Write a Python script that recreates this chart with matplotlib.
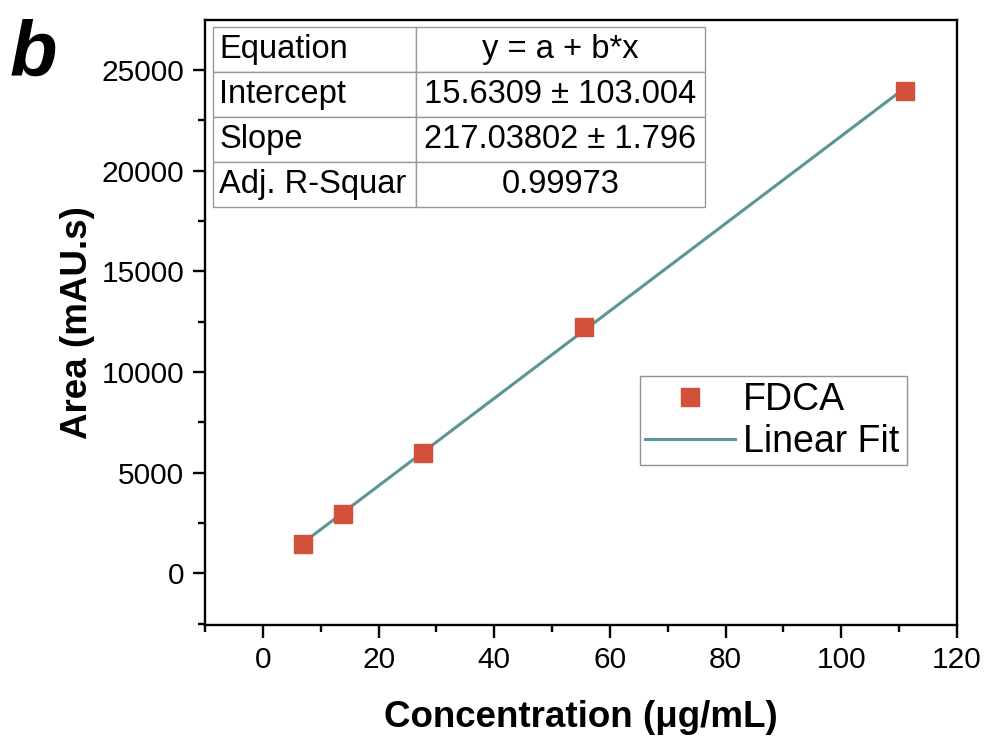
import numpy as np
import matplotlib
matplotlib.use('Agg')
import matplotlib.pyplot as plt
from matplotlib.ticker import MultipleLocator

plt.rcParams['font.family'] = ['Liberation Sans', 'DejaVu Sans']

# data
conc = [6.94, 13.88, 27.75, 55.5, 111.0]
area = [1450, 2940, 5960, 12260, 23980]

# fit result as reported in the table
intercept = 15.6309
slope = 217.03802
table_rows = [
    ['Equation', 'y = a + b*x'],
    ['Intercept', '15.6309 ± 103.004'],
    ['Slope', '217.03802 ± 1.796'],
    ['Adj. R-Squar', '0.99973'],
]

fig = plt.figure(figsize=(9.86, 7.36), dpi=100)
ax = fig.add_axes([0.208, 0.1508, 0.7626, 0.822])

pt_color = '#D3513A'
fit_color = '#5B9595'

xfit = np.array([conc[0], conc[-1]])
ax.plot(xfit, intercept + slope * xfit, color=fit_color, lw=2.2, label='Linear Fit', zorder=2)
ax.plot(conc, area, 's', color=pt_color, ms=12.5, mec=pt_color, label='FDCA', zorder=3)

ax.set_xlim(-10, 120)
ax.set_ylim(-2560, 27480)
ax.xaxis.set_major_locator(MultipleLocator(20))
ax.xaxis.set_minor_locator(MultipleLocator(10))
ax.yaxis.set_major_locator(MultipleLocator(5000))
ax.yaxis.set_minor_locator(MultipleLocator(2500))
ax.tick_params(which='major', direction='out', length=9, width=1.7, labelsize=21.5, pad=6)
ax.tick_params(which='minor', direction='out', length=5, width=1.7)
for s in ax.spines.values():
    s.set_linewidth(1.7)

ax.set_xlabel('Concentration (μg/mL)', fontsize=26.5, fontweight='bold', labelpad=19)
ax.set_ylabel('Area (mAU.s)', fontsize=26.5, fontweight='bold', labelpad=5)

# legend in the lower right, FDCA first
h, l = ax.get_legend_handles_labels()
leg = ax.legend(h[::-1], l[::-1], loc='lower left', bbox_to_anchor=(0.578, 0.264, 0.356, 0.164),
                mode='expand', fontsize=27, frameon=True, fancybox=False, borderpad=0.15,
                handlelength=2.4, handletextpad=0.2, labelspacing=0.15, borderaxespad=0)
leg.get_frame().set_edgecolor('#777777')
leg.get_frame().set_linewidth(1.0)

# fit parameter table
tab = ax.table(cellText=table_rows, colWidths=[0.413, 0.587],
               bbox=[0.0106, 0.691, 0.654, 0.297], zorder=5)
tab.auto_set_font_size(False)
for (r, c), cell in tab.get_celld().items():
    cell.set_edgecolor('#999999')
    cell.set_linewidth(1.0)
    cell.set_facecolor('white')
    cell.get_text().set_fontsize(23.5)
    if c == 0:
        cell.get_text().set_ha('left')
        cell.PAD = 0.03
    else:
        cell.get_text().set_ha('center')

fig.text(0.01, 0.975, 'b', fontsize=56, fontweight='bold', style='italic', va='top', ha='left')

fig.savefig('out.png', dpi=100)
